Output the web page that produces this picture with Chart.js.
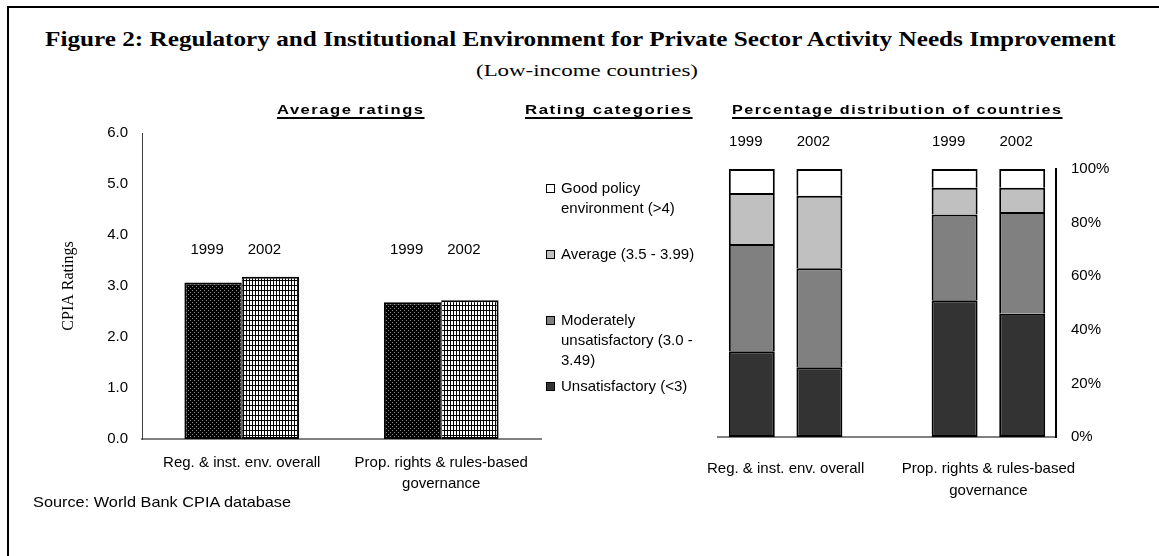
<!DOCTYPE html>
<html>
<head>
<meta charset="utf-8">
<script src="https://cdn.jsdelivr.net/npm/chart.js@4.4.1/dist/chart.umd.min.js"></script>
<style>
  body { margin: 0; background: #fff; }
  #page { position: relative; width: 1159px; height: 556px; overflow: hidden; background: #fff; color: #000; }
  .frame { position: absolute; left: 7px; top: 6px; width: 1200px; height: 600px; border-left: 2px solid #000; border-top: 2px solid #000; }
  .txt { position: absolute; white-space: pre; color: #000; transform-origin: 0 50%; }
  .uline { text-decoration: underline; text-decoration-thickness: 1.5px; text-underline-offset: 3px; }
  .swatch { position: absolute; width: 9px; height: 9px; box-sizing: border-box; border: 1.5px solid #000; }
  canvas { position: absolute; }
</style>
</head>
<body>
<div id="page">
  <div class="frame"></div>
  <canvas id="avgChart" width="560" height="400" style="left:0;top:110px;"></canvas>
  <canvas id="distChart" width="469" height="420" style="left:690px;top:110px;"></canvas>
</div>
<script>
// ---- data ----
const groupLabels = [['Reg. & inst. env. overall'], ['Prop. rights & rules-based', 'governance']];
const years = ['1999', '2002'];
const avgRating1999 = [3.07, 2.68];
const avgRating2002 = [3.18, 2.72];
const ratingTicks = [0, 1, 2, 3, 4, 5, 6];

// five slots on the distribution axis: two bars per group, one empty spacer
const distSlots = ['1999', '2002', '', '1999', '2002'];
const shareUnsatisfactory = [32, 26, null, 51, 46];
const shareModerate       = [40, 37, null, 32, 38];
const shareAverage        = [19, 27, null, 10, 9];
const shareGood           = [9, 10, null, 7, 7];
const percentTicks = [0, 20, 40, 60, 80, 100];

// legend entries, top to bottom
const legendText = [
  'Good policy\nenvironment (>4)',
  'Average (3.5 - 3.99)',
  'Moderately\nunsatisfactory (3.0 -\n3.49)',
  'Unsatisfactory (<3)'
];

// ---- text helpers ----
const page = document.getElementById('page');
const mctx = document.createElement('canvas').getContext('2d');
function putText(text, font, x, baseline, opt = {}) {
  const el = document.createElement('div');
  el.className = 'txt' + (opt.cls ? ' ' + opt.cls : '');
  el.textContent = text;
  el.style.font = font;
  mctx.font = font;
  const m = mctx.measureText(text);
  let w = m.width;
  if (opt.ls) {
    el.style.letterSpacing = opt.ls + 'px';
    w += opt.ls * (text.length - 1);
  }
  if (opt.stretch) {
    el.style.transform = 'scaleX(' + (opt.stretch / w) + ')';
    w = opt.stretch;
  }
  const fs = parseFloat(font.match(/([\d.]+)px/)[1]);
  const A = m.fontBoundingBoxAscent, D = m.fontBoundingBoxDescent;
  el.style.lineHeight = fs + 'px';
  el.style.top = (baseline - ((fs - (A + D)) / 2 + A)) + 'px';
  el.style.left = (opt.align === 'center' ? x - w / 2 : x) + 'px';
  page.appendChild(el);
  return el;
}

const SERIF = "'Liberation Serif', 'Times New Roman', serif";
const SANS = "'Liberation Sans', Arial, sans-serif";

// headings
putText('Figure 2: Regulatory and Institutional Environment for Private Sector Activity Needs Improvement',
  'bold 22px ' + SERIF, 581.5, 46, {align: 'center', stretch: 1073});
putText('(Low-income countries)', '17px ' + SERIF, 587, 76, {align: 'center', stretch: 222});
putText('Average ratings', 'bold 13px ' + SANS, 350, 114, {align: 'center', ls: 1.2, stretch: 146, cls: 'uline'});
putText('Rating categories', 'bold 13px ' + SANS, 608, 114, {align: 'center', ls: 1.2, stretch: 166, cls: 'uline'});
putText('Percentage distribution of countries', 'bold 13px ' + SANS, 896.5, 114, {align: 'center', ls: 1.2, stretch: 329, cls: 'uline'});
putText('Source: World Bank CPIA database', '15px ' + SANS, 33, 507, {stretch: 259});

// ---- fills ----
function makePattern(w, h, bg, fg, cells) {
  const c = document.createElement('canvas');
  c.width = w; c.height = h;
  const g = c.getContext('2d');
  g.fillStyle = bg; g.fillRect(0, 0, w, h);
  g.fillStyle = fg;
  cells.forEach(([x, y, cw, ch]) => g.fillRect(x, y, cw, ch));
  return g.createPattern(c, 'repeat');
}
const dotFill = makePattern(4, 4, '#000', '#8c8c8c', [[0, 0, 1, 1], [2, 2, 1, 1]]);
const gridFill = makePattern(3, 5, '#fff', '#000', [[0, 0, 1, 5], [0, 0, 3, 1]]);

const segColors = ['#333333', '#808080', '#c0c0c0', '#ffffff'];

// legend (HTML)
const legendFill = [segColors[3], segColors[2], segColors[1], segColors[0]];
const legendBase = [193, 259, 325, 391];
legendText.forEach((t, i) => {
  const sw = document.createElement('div');
  sw.className = 'swatch';
  sw.style.left = '546px';
  sw.style.top = (legendBase[i] - 9.5) + 'px';
  sw.style.background = legendFill[i];
  page.appendChild(sw);
  t.split('\n').forEach((line, k) => putText(line, '15px ' + SANS, 561, legendBase[i] + 20 * k));
});

Chart.defaults.font.family = SANS;
Chart.defaults.font.size = 15;
Chart.defaults.color = '#000';

// year captions above each bar
const yearCaptions = {
  id: 'yearCaptions',
  afterDatasetsDraw(chart, args, opts) {
    const ctx = chart.ctx;
    ctx.save();
    ctx.font = '15px ' + SANS;
    ctx.fillStyle = '#000';
    ctx.textAlign = 'center';
    ctx.textBaseline = 'middle';
    const y = opts.atValue != null ? chart.scales.y.getPixelForValue(opts.atValue) : chart.chartArea.top + opts.offsetTop;
    chart.data.datasets.forEach((ds, di) => {
      const meta = chart.getDatasetMeta(di);
      meta.data.forEach((bar, j) => {
        const txt = opts.fromSlots ? chart.data.labels[j] : ds.label;
        if (!txt || (opts.fromSlots && di !== 0)) return;
        if (chart.data.datasets[di].data[j] == null) return;
        ctx.fillText(txt, bar.x + opts.dx, y);
      });
    });
    ctx.restore();
  }
};

// group names under the distribution bars
const groupCaptions = {
  id: 'groupCaptions',
  afterDraw(chart, args, opts) {
    const ctx = chart.ctx, xs = chart.scales.x;
    ctx.save();
    ctx.font = '15px ' + SANS;
    ctx.fillStyle = '#000';
    ctx.textAlign = 'center';
    ctx.textBaseline = 'middle';
    opts.pairs.forEach((pair, g) => {
      const cx = (xs.getPixelForValue(pair[0]) + xs.getPixelForValue(pair[1])) / 2;
      groupLabels[g].forEach((line, k) => {
        ctx.fillText(line, cx, chart.chartArea.bottom + opts.firstLine + k * opts.lineGap);
      });
    });
    ctx.restore();
  }
};

// ---- left: average ratings ----
new Chart(document.getElementById('avgChart'), {
  type: 'bar',
  data: {
    labels: groupLabels,
    datasets: [
      { label: years[0], data: avgRating1999, backgroundColor: dotFill, borderColor: '#000',
        borderWidth: {top: 2, left: 2, bottom: 2, right: 1}, borderSkipped: false },
      { label: years[1], data: avgRating2002, backgroundColor: gridFill, borderColor: '#000',
        borderWidth: {top: 2, left: 1, bottom: 2, right: 2}, borderSkipped: false }
    ]
  },
  options: {
    responsive: false,
    animation: false,
    layout: { padding: { top: 20, left: 0, right: 19, bottom: 0 } },
    datasets: { bar: { categoryPercentage: 0.575, barPercentage: 1 } },
    plugins: {
      legend: { display: false },
      tooltip: { enabled: false },
      yearCaptions: { atValue: 3.7, dx: -6 }
    },
    scales: {
      x: {
        grid: { display: false, drawTicks: false },
        border: { color: '#808080', width: 2 },
        ticks: { padding: 13, maxRotation: 0, autoSkip: false, font: { size: 15, lineHeight: 1.4 } },
        afterFit(s) { s.height = 71; }
      },
      y: {
        min: ratingTicks[0], max: ratingTicks[ratingTicks.length - 1],
        afterBuildTicks(s) { s.ticks = ratingTicks.map(v => ({ value: v })); },
        ticks: { padding: 14, callback: v => Number(v).toFixed(1) },
        grid: { display: false, drawTicks: false },
        border: { color: '#404040', width: 1 },
        title: { display: true, text: 'CPIA Ratings', font: { family: SERIF, size: 16 }, color: '#000', padding: { top: 59, bottom: 0 } },
        afterFit(s) { s.width = 142; }
      }
    }
  },
  plugins: [yearCaptions]
});

// ---- right: percentage distribution ----
const segBorder = (first) => ({ top: 2, left: 2, right: 2, bottom: first ? 2 : 0 });
const segData = [shareUnsatisfactory, shareModerate, shareAverage, shareGood];
const segNames = [legendText[3], legendText[2], legendText[1], legendText[0]];
new Chart(document.getElementById('distChart'), {
  type: 'bar',
  data: {
    labels: distSlots,
    datasets: segData.map((d, i) => ({
      label: segNames[i].replace(/\n/g, ' '),
      data: d,
      backgroundColor: segColors[i],
      borderColor: '#000',
      borderWidth: segBorder(i === 0),
      borderSkipped: false
    }))
  },
  options: {
    responsive: false,
    animation: false,
    layout: { padding: { top: 59, left: 28, right: 0, bottom: 0 } },
    datasets: { bar: { categoryPercentage: 0.68, barPercentage: 1 } },
    plugins: {
      legend: { display: false },
      tooltip: { enabled: false },
      yearCaptions: { fromSlots: true, offsetTop: -27, dx: -6 },
      groupCaptions: { pairs: [[0, 1], [3, 4]], firstLine: 32, lineGap: 22 }
    },
    scales: {
      x: {
        stacked: true,
        grid: { display: false, drawTicks: false },
        border: { color: '#808080', width: 2 },
        ticks: { display: false },
        afterFit(s) { s.height = 93; }
      },
      y: {
        stacked: true,
        position: 'right',
        min: percentTicks[0], max: percentTicks[percentTicks.length - 1],
        afterBuildTicks(s) { s.ticks = percentTicks.map(v => ({ value: v })); },
        ticks: { padding: 15, callback: v => v + '%' },
        grid: { display: false, drawTicks: false },
        border: { color: '#000', width: 2 },
        afterFit(s) { s.width = 103; }
      }
    }
  },
  plugins: [yearCaptions, groupCaptions]
});
</script>
</body>
</html>
